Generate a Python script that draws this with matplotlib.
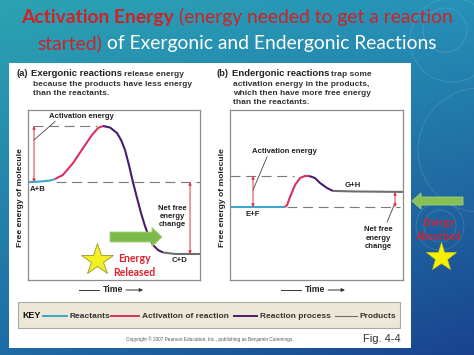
import matplotlib
matplotlib.use('Agg')
import matplotlib.pyplot as plt
import numpy as np
from matplotlib.patches import Rectangle, FancyArrow, Circle

# ---- data (box units: 0..100 on both axes) ----
# (a) exergonic
a_react_x = [0, 7, 12.8, 15.7]
a_react_y = [57.6, 57.9, 58.5, 59.4]
a_act_x = [15.7, 20.3, 26.2, 32.0, 37.2, 40.7, 43.6]
a_act_y = [59.4, 61.8, 68.8, 77.6, 85.3, 89.4, 90.6]
a_proc_x = [43.6, 47.7, 51.7, 54.1, 56.4, 58.7, 61.0, 63.4, 65.7, 68.0, 70.3, 72.7, 75.6, 78.5]
a_proc_y = [90.6, 89.7, 86.5, 82.4, 76.5, 67.6, 57.6, 48.2, 39.4, 31.8, 25.3, 20.6, 17.6, 16.2]
a_prod_x = [78.5, 85.5, 100]
a_prod_y = [16.2, 15.3, 15.3]
a_levels = {'react': 57.6, 'peak': 90.6, 'prod': 15.3}

# (b) endergonic
b_react_x = [0, 31.8]
b_react_y = [42.9, 42.9]
b_act_x = [31.8, 33.0, 34.7, 37.6, 40.5, 43.4, 45.7]
b_act_y = [42.9, 44.1, 48.8, 55.9, 60.0, 61.2, 61.2]
b_proc_x = [45.7, 49.1, 52.0, 56.1, 59.5]
b_proc_y = [61.2, 60.0, 57.1, 54.1, 52.4]
b_prod_x = [59.5, 71.1, 100]
b_prod_y = [52.4, 52.1, 51.8]
b_levels = {'react': 42.9, 'peak': 61.2, 'prod': 51.8}

key_labels = ['Reactants', 'Activation of reaction', 'Reaction process', 'Products']

C_REACT = '#3ba7c9'
C_ACT = '#d6325e'
C_PROC = '#4b1c6e'
C_PROD = '#6e6e6e'
key_colors = [C_REACT, C_ACT, C_PROC, C_PROD]
ARROW_RED = '#d9343f'
DASH = '#7a7a7a'
TXT = '#222222'
SANS = 'Liberation Sans'

W, H = 474, 355
fig = plt.figure(figsize=(W / 100, H / 100), dpi=100)

# background gradient
bg = fig.add_axes([0, 0, 1, 1], zorder=0)
xx, yy = np.meshgrid(np.linspace(0, 1, W), np.linspace(0, 1, H))
c_tl = np.array([0.17, 0.64, 0.70])
c_tr = np.array([0.15, 0.57, 0.72])
c_bl = np.array([0.12, 0.42, 0.65])
c_br = np.array([0.10, 0.26, 0.56])
grad = ((1 - xx) * (1 - yy))[..., None] * c_tl + (xx * (1 - yy))[..., None] * c_tr \
    + ((1 - xx) * yy)[..., None] * c_bl + (xx * yy)[..., None] * c_br
bg.imshow(grad, extent=(0, W, H, 0), aspect='auto')
bg.set_xlim(0, W)
bg.set_ylim(H, 0)
bg.axis('off')
for cx, cy, r in [(445, 30, 22), (452, 40, 42), (480, 150, 62), (440, 226, 16), (440, 226, 24)]:
    bg.add_patch(Circle((cx, cy), r, fill=False, ec='white', lw=0.6, alpha=0.15))
bg.add_patch(Rectangle((9, 63), 402, 285, fc='white', ec='none'))
bg.add_patch(Rectangle((18, 302), 382, 26, fc='#ece7d6', ec='#a8a8a8', lw=0.8))

# overlay in pixel coordinates
ov = fig.add_axes([0, 0, 1, 1], zorder=10)
ov.set_xlim(0, W)
ov.set_ylim(H, 0)
ov.axis('off')
ov.patch.set_alpha(0)
renderer = fig.canvas.get_renderer()


def rich(parts, x, y, ha='left'):
    texts = []
    for s, kw in parts:
        texts.append(ov.text(0, y, s, va='baseline', ha='left', **kw))
    widths = [t.get_window_extent(renderer).width for t in texts]
    gaps = [0] + [0.28 * p[1].get('fontsize', 6) * 100 / 72 for p in parts[1:]]
    total = sum(widths) + sum(gaps)
    start = x - total / 2 if ha == 'center' else x
    for t, w, g in zip(texts, widths, gaps):
        start += g
        t.set_x(start)
        start += w


# title
tf = ['Lato', 'DejaVu Sans']
TRED = '#cf2226'
rich([('Activation Energy', dict(color=TRED, fontsize=13.9, fontweight='bold', family=tf)),
      ('(energy needed to get a reaction', dict(color=TRED, fontsize=13.9, family=tf))],
     237, 23, ha='center')
rich([('started)', dict(color=TRED, fontsize=13.9, family=tf)),
      ('of Exergonic and Endergonic Reactions', dict(color='white', fontsize=13.9, family=tf))],
     237, 49, ha='center')

# headings
hk = dict(fontsize=6.8, fontweight='bold', color=TXT, family=SANS)
hs = dict(fontsize=6.0, fontweight='bold', color='#333333', family=SANS)
rich([('(a)', hk), ('Exergonic reactions', hk), ('release energy', hs)], 17, 76.5)
ov.text(33, 85.8, 'because the products have less energy', va='baseline', **hs)
ov.text(33, 95.1, 'than the reactants.', va='baseline', **hs)
rich([('(b)', hk), ('Endergonic reactions', hk), ('trap some', hs)], 217, 76.5)
ov.text(233, 85.8, 'activation energy in the products,', va='baseline', **hs)
ov.text(233, 95.1, 'which then have more free energy', va='baseline', **hs)
ov.text(233, 104.4, 'than the reactants.', va='baseline', **hs)


def panel(rect, segs, lv, dash_top, dash_bot):
    ax = fig.add_axes(rect, zorder=5)
    ax.set_xlim(0, 100)
    ax.set_ylim(0, 100)
    ax.set_xticks([])
    ax.set_yticks([])
    ax.patch.set_alpha(0)
    for s in ax.spines.values():
        s.set_color('#8c8c8c')
        s.set_linewidth(0.9)
    ax.plot(dash_top, [lv['peak']] * 2, color=DASH, lw=0.8, dashes=(9, 5))
    ax.plot(dash_bot, [lv['react']] * 2, color=DASH, lw=0.8, dashes=(9, 5))
    for (xs, ys), c in zip(segs, key_colors):
        ax.plot(xs, ys, color=c, lw=1.5, solid_capstyle='butt')
    return ax


def dbl_arrow(ax, x, y0, y1):
    ax.annotate('', xy=(x, y1), xytext=(x, y0),
                arrowprops=dict(arrowstyle='<|-|>', color=ARROW_RED, lw=0.7,
                                mutation_scale=4, shrinkA=0, shrinkB=0))


lab = dict(fontsize=5.6, fontweight='bold', color=TXT, family=SANS)

axa = panel([28 / W, 1 - 280 / H, 172 / W, 170 / H],
            [(a_react_x, a_react_y), (a_act_x, a_act_y), (a_proc_x, a_proc_y), (a_prod_x, a_prod_y)],
            a_levels, [3, 40], [16, 100])
dbl_arrow(axa, 3.5, a_levels['react'], a_levels['peak'])
dbl_arrow(axa, 94.2, a_levels['react'], a_levels['prod'])
axa.plot([15.7, 3.5], [93.2, 82.4], color='#444444', lw=0.6)
axa.text(31.0, 96.4, 'Activation energy', ha='center', va='center', **lab)
axa.text(1.2, 53.5, 'A+B', ha='left', va='center', **lab)
axa.text(83.7, 37.5, 'Net free\nenergy\nchange', ha='center', va='center', linespacing=1.25, **lab)
axa.text(88.4, 11.2, 'C+D', ha='center', va='center', **lab)

axb = panel([230 / W, 1 - 280 / H, 173 / W, 170 / H],
            [(b_react_x, b_react_y), (b_act_x, b_act_y), (b_proc_x, b_proc_y), (b_prod_x, b_prod_y)],
            b_levels, [0, 37], [33, 98])
dbl_arrow(axb, 13.3, b_levels['react'], b_levels['peak'])
dbl_arrow(axb, 95.4, b_levels['react'], b_levels['prod'])
axb.plot([21.4, 13.3], [72.4, 52.9], color='#444444', lw=0.6)
axb.plot([90.8, 95.4], [34.1, 45.3], color='#444444', lw=0.6)
axb.text(31.2, 75.3, 'Activation energy', ha='center', va='center', **lab)
axb.text(71.1, 55.3, 'G+H', ha='center', va='center', **lab)
axb.text(13.3, 38.6, 'E+F', ha='center', va='center', **lab)
axb.text(85.5, 24.7, 'Net free\nenergy\nchange', ha='center', va='center', linespacing=1.25, **lab)

# y labels and time axes
for x in (21, 223):
    ov.text(x, 197.5, 'Free energy of molecule', rotation=90, ha='center', va='center',
            fontsize=6.1, fontweight='bold', color=TXT, family=SANS)
for cx in (113, 315):
    ov.plot([cx - 34, cx - 14], [290, 290], color='#333333', lw=0.7)
    ov.text(cx, 290, 'Time', ha='center', va='center', fontsize=6.3, fontweight='bold',
            color=TXT, family=SANS)
    ov.annotate('', xy=(cx + 30, 290), xytext=(cx + 13, 290),
                arrowprops=dict(arrowstyle='-|>', color='#333333', lw=0.7,
                                mutation_scale=5, shrinkA=0, shrinkB=0))

# key
ov.text(22, 316, 'KEY', ha='left', va='center', fontsize=6.4, fontweight='bold', color='#111111', family=SANS)
key_x = [(43, 67), (111, 139), (234, 257), (335, 357)]
for (x0, x1), c, t in zip(key_x, key_colors, key_labels):
    ov.plot([x0, x1], [316, 316], color=c, lw=1.4 if c != C_PROD else 0.8)
    ov.text(x1 + 3, 317, t, ha='left', va='center', fontsize=6.0, fontweight='bold',
            color='#333333', family=SANS)

ov.text(210, 339, 'Copyright \u00a9 2007 Pearson Education, Inc., publishing as Benjamin Cummings.',
        ha='center', va='center', fontsize=3.4, color='#555555', family=SANS)
ov.text(363, 339, 'Fig. 4-4', ha='left', va='center', fontsize=8, color='#333333', family=SANS)

# decorations: arrows, stars, "Energy" notes
ov.add_patch(FancyArrow(110, 237, 52, 0, width=10, head_width=19, head_length=10,
                        length_includes_head=True, fc='#7dba4c', ec='#a5cf80', lw=0.6))
ov.add_patch(FancyArrow(463, 201, -51, 0, width=8, head_width=16, head_length=9,
                        length_includes_head=True, fc='#86c053', ec='#a5cf80', lw=0.6))
ov.plot(97, 260, marker='*', ms=24, color='#f2ef22', mec='#8f9a2a', mew=0.6)
ov.plot(441, 257, marker='*', ms=22, color='#f5f000', mec='#d8d800', mew=0.4)
en = dict(fontsize=7.6, fontweight='bold', color='#e0202a', family=tf, ha='center', va='center')
ov.text(134, 259, 'Energy', **en)
ov.text(134, 273, 'Released', **en)
ov.text(438, 223, 'Energy', alpha=0.85, **en)
ov.text(438, 236, 'Absorbed', alpha=0.85, **en)

fig.savefig('out.png', dpi=100)
